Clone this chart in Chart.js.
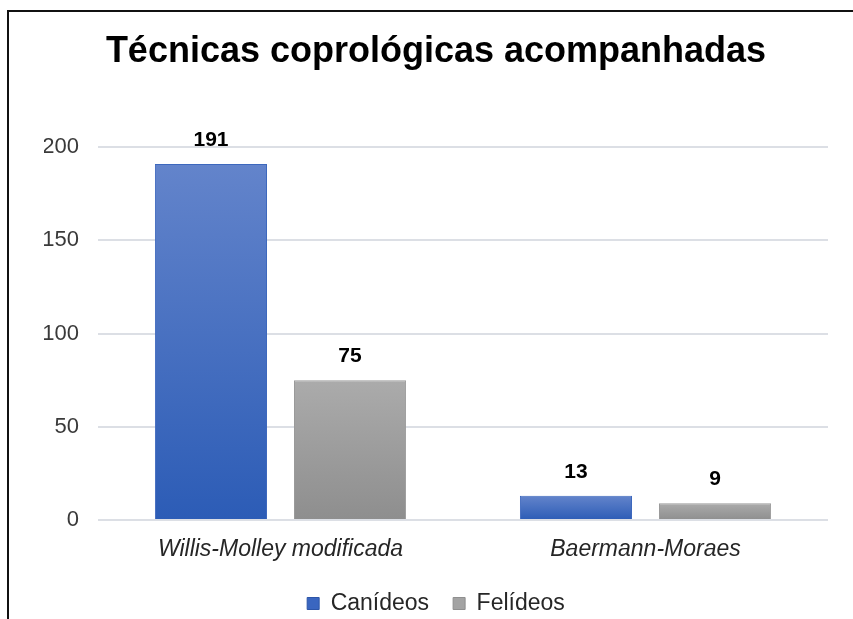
<!DOCTYPE html>
<html><head><meta charset="utf-8">
<script src="https://cdn.jsdelivr.net/npm/chart.js@4/dist/chart.umd.min.js"></script>
<style>html,body{margin:0;padding:0;background:#fff;overflow:hidden}#wrap{width:853px;height:619px;position:relative}</style>
</head><body><div id="wrap"><canvas id="c"></canvas></div>
<script>
const chartTitle = 'Técnicas coprológicas acompanhadas';
const categories = ['Willis-Molley modificada', 'Baermann-Moraes'];
const seriesNames = ['Canídeos', 'Felídeos'];
const canideos = [191, 13];
const felideos = [75, 9];
const yTicks = [0, 50, 100, 150, 200];

Chart.defaults.font.family = "'Liberation Sans', Arial, sans-serif";

function grad(top, bottom, fallback) {
  return ctx => {
    const chart = ctx.chart;
    if (!chart.chartArea || ctx.type !== 'data') return fallback;
    const y = chart.scales.y;
    const y0 = y.getPixelForValue(ctx.raw), y1 = y.getPixelForValue(0);
    if (!isFinite(y0) || !isFinite(y1) || y0 === y1) return fallback;
    const g = chart.ctx.createLinearGradient(0, y0, 0, y1);
    g.addColorStop(0, top); g.addColorStop(1, bottom);
    return g;
  };
}

const legendColors = [['#3a66c0', '#2d55a8'], ['#a3a3a3', '#8f8f8f']];

const framePlugin = {
  id: 'frame',
  beforeDraw(chart) {
    const c = chart.ctx;
    c.save();
    c.fillStyle = '#fff';
    c.fillRect(0, 0, chart.width, chart.height);
    c.strokeStyle = '#111';
    c.lineWidth = 2;
    c.beginPath();
    c.moveTo(8, chart.height);
    c.lineTo(8, 11);
    c.lineTo(chart.width, 11);
    c.stroke();
    c.restore();
  }
};

const dataLabels = {
  id: 'dl',
  afterDatasetsDraw(chart) {
    const c = chart.ctx;
    c.save();
    c.font = "bold 21px 'Liberation Sans', Arial, sans-serif";
    c.fillStyle = '#000';
    c.textAlign = 'center';
    c.textBaseline = 'middle';
    chart.data.datasets.forEach((ds, i) => {
      chart.getDatasetMeta(i).data.forEach((el, j) => {
        c.fillText(String(ds.data[j]), el.x, el.y - 24);
      });
    });
    c.restore();
  }
};

new Chart(document.getElementById('c'), {
  type: 'bar',
  data: {
    labels: categories,
    datasets: [
      { label: seriesNames[0], data: canideos,
        backgroundColor: grad('#6384cb', '#2c5cb6', '#4472c4'),
        borderColor: '#3d68bd', borderWidth: 1,
        categoryPercentage: 0.762, barPercentage: 0.806 },
      { label: seriesNames[1], data: felideos,
        backgroundColor: grad('#ababab', '#8e8e8e', '#a5a5a5'),
        borderColor: '#9a9a9a', borderWidth: 1,
        categoryPercentage: 0.762, barPercentage: 0.806 }
    ]
  },
  options: {
    responsive: true,
    maintainAspectRatio: false,
    animation: false,
    layout: { padding: { left: 44, right: 25, top: 0, bottom: -6 } },
    plugins: {
      title: {
        display: true, text: chartTitle, color: '#000',
        font: { size: 36, weight: 'bold' },
        padding: { top: 30, bottom: 74 }
      },
      legend: {
        position: 'bottom',
        labels: {
          color: '#262626', font: { size: 23 }, boxWidth: 12, boxHeight: 12, padding: 24,
          generateLabels(chart) {
            return chart.data.datasets.map((ds, i) => ({
              text: ds.label, fillStyle: legendColors[i][0], strokeStyle: legendColors[i][1],
              lineWidth: 1, hidden: false, datasetIndex: i, fontColor: '#262626'
            }));
          }
        }
      },
      tooltip: { enabled: false }
    },
    scales: {
      x: {
        grid: { display: false },
        border: { display: false },
        ticks: { color: '#262626', font: { size: 23, style: 'italic' }, padding: 8 },
        afterFit(s) { s.height = 48; }
      },
      y: {
        min: 0, max: 200,
        afterBuildTicks(s) { s.ticks = yTicks.map(v => ({ value: v })); },
        grid: { color: '#dcdfe5', lineWidth: 2, drawTicks: false },
        border: { display: false },
        ticks: { color: '#3a3a3a', font: { size: 22 }, padding: 19 },
        afterFit(s) { s.width = 54; }
      }
    }
  },
  plugins: [framePlugin, dataLabels]
});
</script>
</body></html>
